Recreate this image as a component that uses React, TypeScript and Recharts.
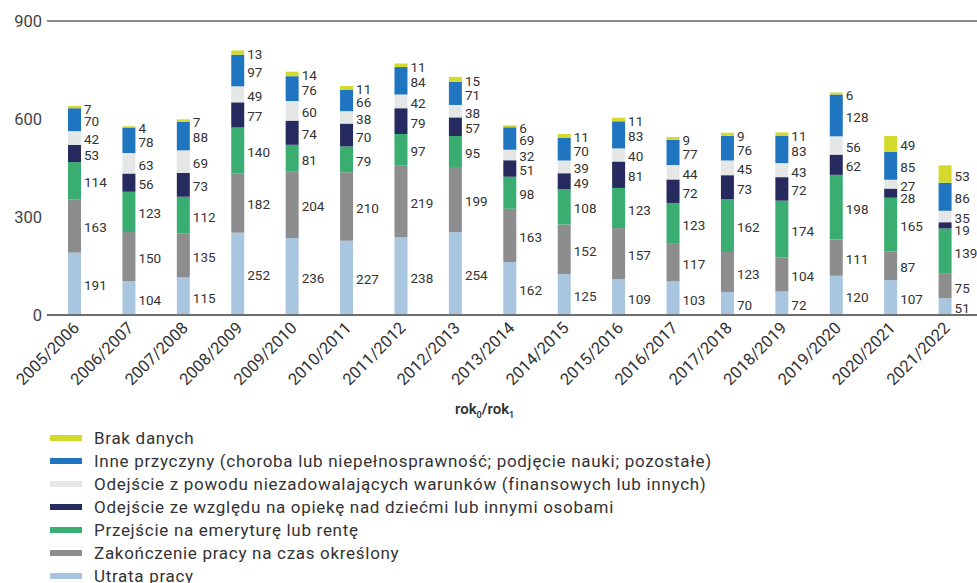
import React from 'react';
import { BarChart, Bar, XAxis, YAxis, ReferenceLine, LabelList } from 'recharts';

const categories = ['2005/2006', '2006/2007', '2007/2008', '2008/2009', '2009/2010', '2010/2011', '2011/2012', '2012/2013', '2013/2014', '2014/2015', '2015/2016', '2016/2017', '2017/2018', '2018/2019', '2019/2020', '2020/2021', '2021/2022'];

const utrata = [191, 104, 115, 252, 236, 227, 238, 254, 162, 125, 109, 103, 70, 72, 120, 107, 51];
const zakonczenie = [163, 150, 135, 182, 204, 210, 219, 199, 163, 152, 157, 117, 123, 104, 111, 87, 75];
const emerytura = [114, 123, 112, 140, 81, 79, 97, 95, 98, 108, 123, 123, 162, 174, 198, 165, 139];
const opieka = [53, 56, 73, 77, 74, 70, 79, 57, 51, 49, 81, 72, 73, 72, 62, 28, 19];
const warunki = [42, 63, 69, 49, 60, 38, 42, 38, 32, 39, 40, 44, 45, 43, 56, 27, 35];
const inne = [70, 78, 88, 97, 76, 66, 84, 71, 69, 70, 83, 77, 76, 83, 128, 85, 86];
const brak = [7, 4, 7, 13, 14, 11, 11, 15, 6, 11, 11, 9, 9, 11, 6, 49, 53];

const yTicks = [0, 300, 600, 900];

// bottom-to-top stacking order
const seriesDefs = [
  { key: 'utrata', name: 'Utrata pracy', values: utrata, color: '#a9c6e1' },
  { key: 'zakonczenie', name: 'Zakończenie pracy na czas określony', values: zakonczenie, color: '#8d8d8e' },
  { key: 'emerytura', name: 'Przejście na emeryturę lub rentę', values: emerytura, color: '#39ae70' },
  { key: 'opieka', name: 'Odejście ze względu na opiekę nad dziećmi lub innymi osobami', values: opieka, color: '#272a5e' },
  { key: 'warunki', name: 'Odejście z powodu niezadowalających warunków (finansowych lub innych)', values: warunki, color: '#e5e7e7' },
  { key: 'inne', name: 'Inne przyczyny (choroba lub niepełnosprawność; podjęcie nauki; pozostałe)', values: inne, color: '#1f75c0' },
  { key: 'brak', name: 'Brak danych', values: brak, color: '#d3da2c' },
];

const data = categories.map((c, i) => {
  const row: any = { cat: c };
  seriesDefs.forEach((s) => {
    row[s.key] = s.values[i];
  });
  return row;
});

// label positions (value units) with simple top-down de-overlap
const GAP = 38;
const labelShift: number[][] = categories.map((_, i) => {
  const mids: number[] = [];
  let cum = 0;
  seriesDefs.forEach((s) => {
    mids.push(cum + s.values[i] / 2);
    cum += s.values[i];
  });
  const adj = mids.slice();
  for (let k = adj.length - 2; k >= 0; k--) {
    if (adj[k] > adj[k + 1] - GAP) adj[k] = adj[k + 1] - GAP;
  }
  return adj.map((a, k) => a - mids[k]);
});

const makeLabel = (sIdx: number) => (props: any) => {
  const { x, y, width, height, value, index } = props;
  const h = Math.abs(Number(height));
  const v = Number(value);
  const ppu = v > 0 ? h / v : 0;
  const shift = labelShift[index] ? labelShift[index][sIdx] : 0;
  const top = Math.min(Number(y), Number(y) + Number(height));
  const cy = top + h / 2 - shift * ppu + 1.5;
  return (
    <text
      x={Number(x) + Number(width) + 3}
      y={cy}
      fontSize={13.5}
      fill="#333"
      fontFamily="Roboto, sans-serif"
      dominantBaseline="central"
    >
      {value}
    </text>
  );
};

const XTick = (props: any) => {
  const { x, y, payload } = props;
  const ax = x + 6;
  const ay = y + 12;
  return (
    <text
      x={ax}
      y={ay}
      textAnchor="end"
      transform={`rotate(-45, ${ax}, ${ay})`}
      fontSize={16.5}
      fill="#333"
      fontFamily="Roboto, sans-serif"
    >
      {payload.value}
    </text>
  );
};

const legendOrder = seriesDefs.slice().reverse();

export default function App() {
  return (
    <div style={{ position: 'absolute', left: 0, top: 0, width: 977, height: 583, background: '#fff', overflow: 'hidden', fontFamily: 'Roboto, sans-serif' }}>
      <BarChart width={977} height={400} data={data} margin={{ top: 21, right: 0, bottom: 0, left: 0 }}>
        <YAxis
          domain={[0, 900]}
          ticks={yTicks}
          width={47}
          axisLine={false}
          tickLine={false}
          tickSize={0}
          tickMargin={5}
          tick={{ fontSize: 16.5, fill: '#444', fontFamily: 'Roboto, sans-serif' }}
        />
        <XAxis
          dataKey="cat"
          height={85}
          interval={0}
          tickLine={false}
          tickSize={0}
          axisLine={{ stroke: '#6e6e6e', strokeWidth: 2 }}
          padding={{ left: 0, right: 5 }}
          tick={<XTick />}
        />
        <ReferenceLine y={900} stroke="#8a8a8a" strokeWidth={2} />
        {seriesDefs.map((s, sIdx) => (
          <Bar key={s.key} dataKey={s.key} name={s.name} stackId="a" fill={s.color} barSize={13} isAnimationActive={false}>
            <LabelList dataKey={s.key} content={makeLabel(sIdx)} />
          </Bar>
        ))}
      </BarChart>
      <div style={{ position: 'absolute', left: 455, top: 400, fontSize: 15, fontWeight: 600, color: '#333', whiteSpace: 'nowrap' }}>
        rok<sub style={{ fontSize: 9 }}>0</sub>/rok<sub style={{ fontSize: 9 }}>1</sub>
      </div>
      {legendOrder.map((s, i) => (
        <div key={s.key} style={{ position: 'absolute', left: 50, top: 426 + i * 23, height: 23, display: 'flex', alignItems: 'center', whiteSpace: 'nowrap' }}>
          <div style={{ width: 32, height: 6, background: s.color }} />
          <span style={{ marginLeft: 12, fontSize: 17, letterSpacing: 0.7, color: '#333', fontFamily: 'Roboto, sans-serif' }}>{s.name}</span>
        </div>
      ))}
    </div>
  );
}
